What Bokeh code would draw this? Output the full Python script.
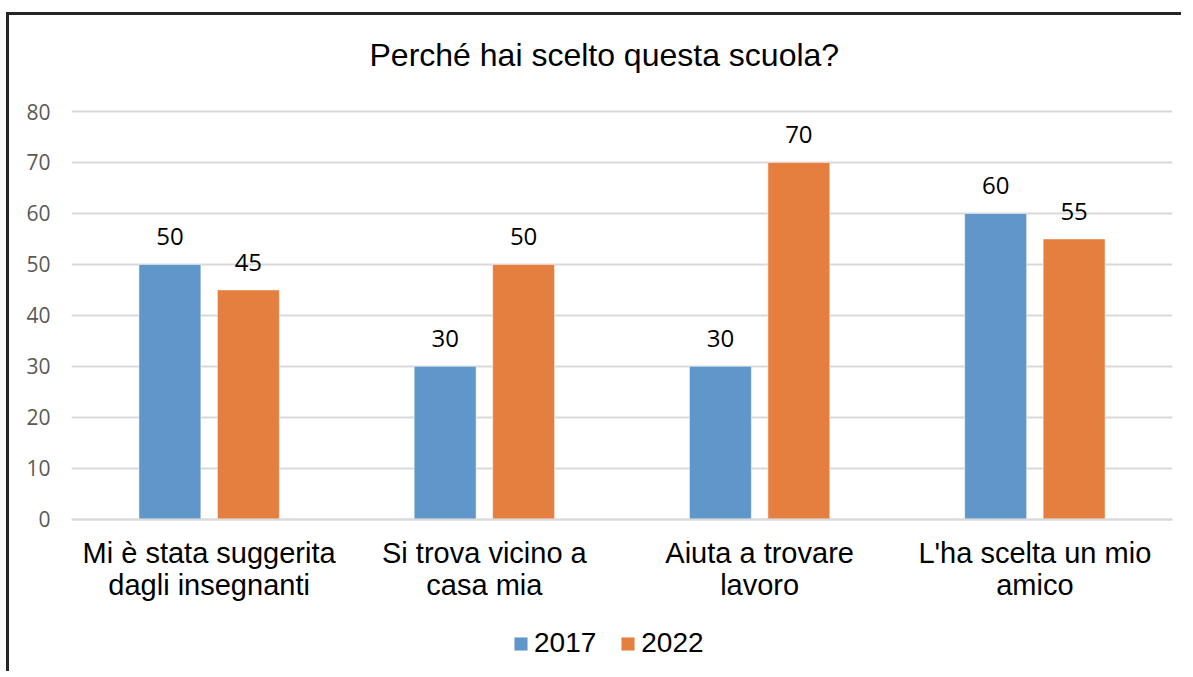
from bokeh.plotting import figure
from bokeh.models import (ColumnDataSource, FactorRange, Range1d, Legend, LegendItem,
                          LabelSet, FixedTicker)
from bokeh.core.properties import value
from bokeh.transform import dodge
from bokeh.embed import file_html
from bokeh.resources import INLINE

# ---- data ----
categories = ["Mi è stata suggerita\ndagli insegnanti",
              "Si trova vicino a\ncasa mia",
              "Aiuta a trovare\nlavoro",
              "L'ha scelta un mio\namico"]
values_2017 = [50, 30, 30, 60]
values_2022 = [45, 50, 70, 55]
series_names = ["2017", "2022"]
y_ticks = [0, 10, 20, 30, 40, 50, 60, 70, 80]
title_text = "Perché hai scelto questa scuola?"

BLUE = "#5f97ca"
ORANGE = "#e57f3f"

source = ColumnDataSource(data=dict(
    cat=categories,
    v2017=values_2017,
    v2022=values_2022,
    l2017=[str(v) for v in values_2017],
    l2022=[str(v) for v in values_2022],
))

# layout (pixels)
W, H = 1175, 659
Y80_PX, LEFT, RIGHT = 97, 62, 12     # canvas y of the 80 gridline
PLOT_H = 407                          # pixels from 0 to 80
TITLE_STANDOFF = 39
TITLE_BOX = 39                        # measured height of the title text box
FRAME_TOP = TITLE_BOX + TITLE_STANDOFF
LEGEND_CENTER_PX = 628                # canvas y of the legend's centre line
px_per_unit = PLOT_H / y_ticks[-1]
y_top = y_ticks[-1] + (Y80_PX - FRAME_TOP) / px_per_unit
y_bottom = -(H - Y80_PX - PLOT_H) / px_per_unit   # frame continues below 0 for labels/legend

p = figure(width=W, height=H, x_range=FactorRange(*categories, range_padding=0),
           y_range=Range1d(y_bottom, y_top), output_backend="svg",
           toolbar_location=None, min_border_left=LEFT, min_border_right=RIGHT,
           min_border_top=0, min_border_bottom=0, title=title_text)
p.x_range.range_padding = 0
p.styles = {"border-left": "3px solid #262626", "border-top": "3px solid #262626",
            "margin-top": "12px", "margin-left": "6px"}

p.title.text_font = "Liberation Sans"
p.title.text_font_size = "32px"
p.title.text_font_style = "normal"
p.title.text_color = "#000000"
p.title.align = "left"
p.title.offset = 298
p.title.standoff = TITLE_STANDOFF

OFF = 0.1425
BW = 0.225
r1 = p.vbar(x=dodge("cat", -OFF, range=p.x_range), top="v2017", bottom=0, width=BW,
            source=source, fill_color=BLUE, line_color="white", line_width=0.5)
r2 = p.vbar(x=dodge("cat", OFF, range=p.x_range), top="v2022", bottom=0, width=BW,
            source=source, fill_color=ORANGE, line_color="white", line_width=0.5)

lab_style = dict(text_font=value("Open Sans"), text_font_size=value("24px"),
                 text_color="#000000", text_align="center",
                 text_baseline="alphabetic", y_offset=19)
p.add_layout(LabelSet(x=dodge("cat", -OFF, range=p.x_range), y="v2017", text="l2017",
                      source=source, **lab_style))
p.add_layout(LabelSet(x=dodge("cat", OFF, range=p.x_range), y="v2022", text="l2022",
                      source=source, **lab_style))

# axes
p.yaxis.ticker = FixedTicker(ticks=y_ticks)
p.yaxis.axis_line_color = None
p.yaxis.major_tick_line_color = None
p.yaxis.minor_tick_line_color = None
p.yaxis.major_label_text_font = "Open Sans"
p.yaxis.major_label_text_font_size = "21px"
p.yaxis.major_label_text_color = "#595959"
p.yaxis.major_label_standoff = 15

p.xaxis.fixed_location = 0
p.xaxis.axis_line_color = "#d9d9d9"
p.xaxis.axis_line_width = 2
p.xaxis.major_tick_line_color = None
p.xaxis.minor_tick_line_color = None
p.xaxis.major_label_text_font = "Liberation Sans"
p.xaxis.major_label_text_font_size = "29px"
p.xaxis.major_label_text_line_height = 1.0
p.xaxis.major_label_text_color = "#000000"
p.xaxis.major_label_standoff = 12

p.xgrid.grid_line_color = None
p.ygrid.ticker = FixedTicker(ticks=y_ticks)
p.ygrid.grid_line_color = "#d9d9d9"
p.ygrid.grid_line_width = 2
p.outline_line_color = None

legend = Legend(items=[LegendItem(label=series_names[0], renderers=[r1]),
                       LegendItem(label=series_names[1], renderers=[r2])],
                orientation="horizontal", location=(441, H - LEGEND_CENTER_PX - 16),
                label_text_font="Liberation Sans", label_text_font_size="28px",
                label_text_color="#000000", glyph_width=17, glyph_height=17,
                label_standoff=5, spacing=23, padding=0, margin=0,
                border_line_color=None, background_fill_alpha=0)
p.add_layout(legend, "center")

open("out.html", "w").write(file_html(p, INLINE))
